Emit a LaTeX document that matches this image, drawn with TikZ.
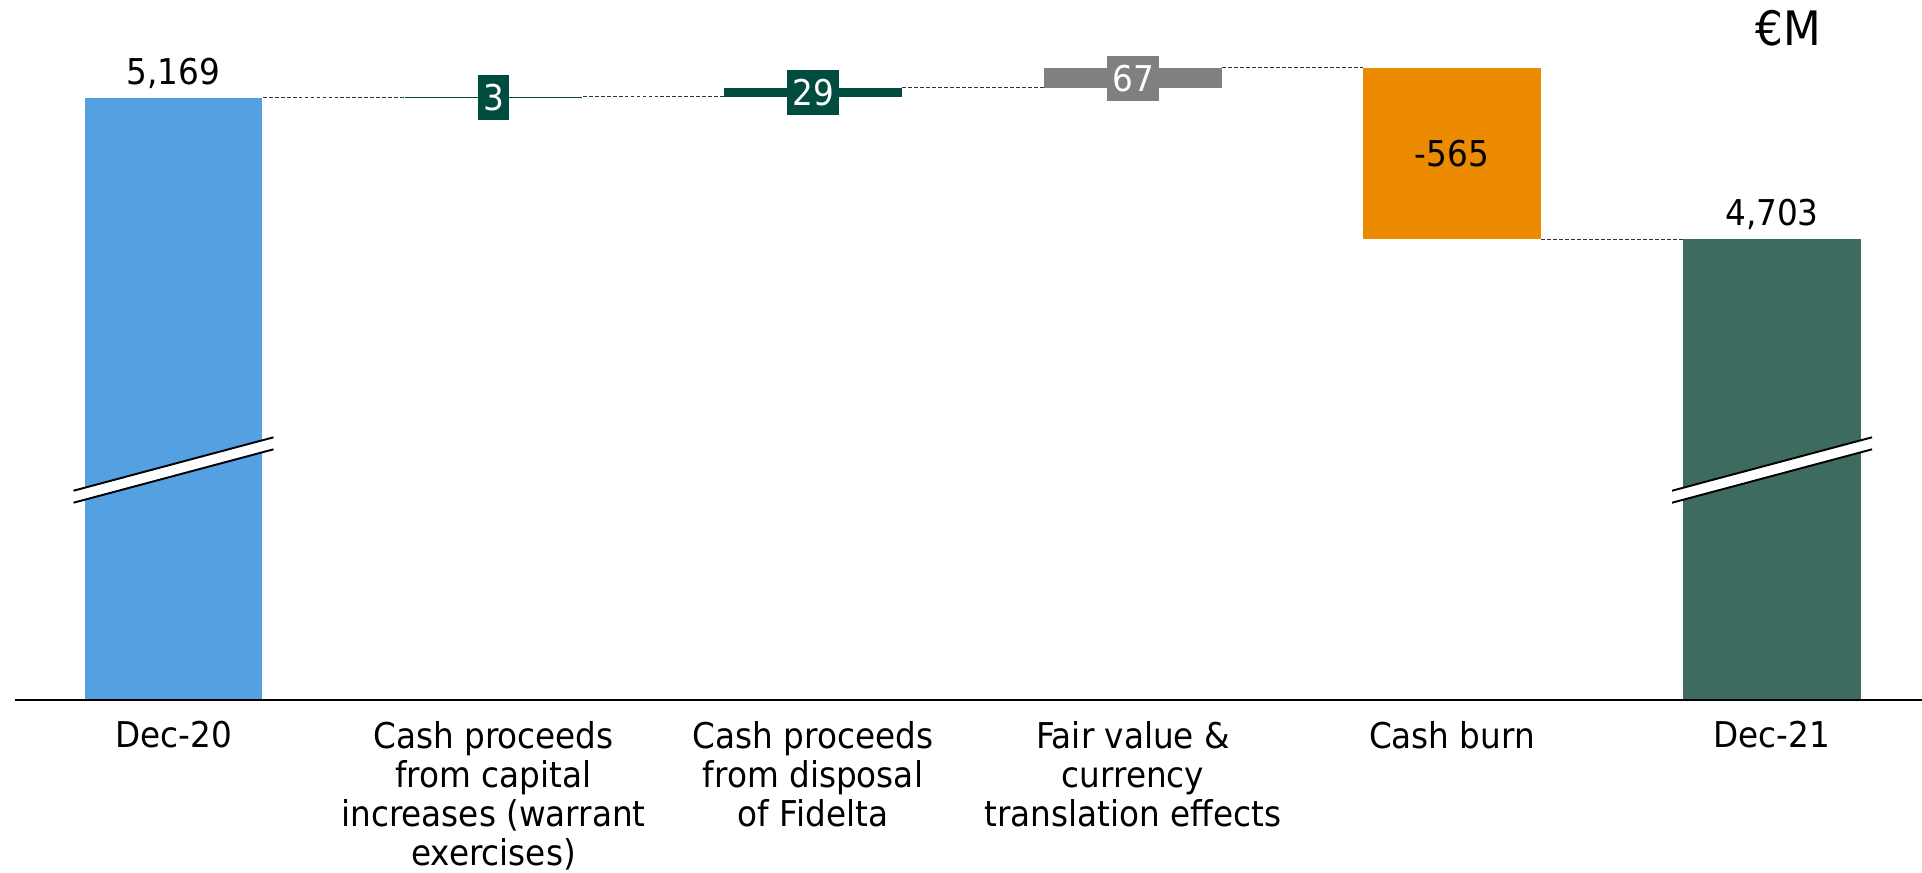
\documentclass[tikz,border=0pt]{standalone}
\usepackage{fontspec}
\setmainfont{DejaVu Sans}[FakeStretch=0.92]
\usepackage{tikz}
\definecolor{blue20}{RGB}{85,160,224}
\definecolor{teal21}{RGB}{62,107,95}
\definecolor{darkteal}{RGB}{0,77,64}
\definecolor{greybar}{RGB}{128,128,128}
\definecolor{burnorange}{RGB}{236,138,0}

\begin{document}
\begin{tikzpicture}[x=0.01cm,y=-0.01cm,
  every node/.style={font=\fontsize{10.1}{11.1}\selectfont},
  bar/.style={inner sep=0pt,minimum width=1.77cm},
  conn/.style={black!80,line width=0.35pt,dash pattern=on 1.1pt off 0.6pt},
  valbox/.style={fill=darkteal,text=white,inner xsep=0.055cm,inner ysep=0pt,minimum height=0.45cm},
  cat/.style={align=center,inner sep=0pt,below=0.2cm}]
\useasboundingbox (0,0) rectangle (1922,872);
\node[bar,fill=blue20,minimum height=6.02cm] (dec20) at (173.5,399) {};
\node[bar,fill=darkteal,minimum height=0.012cm] (cap) at (493.5,97.5) {};
\node[bar,fill=darkteal,minimum height=0.088cm] (fid) at (813,92.7) {};
\node[bar,fill=greybar,minimum height=0.203cm] (fx) at (1133,78.15) {};
\node[bar,fill=burnorange,minimum height=1.71cm] (burn) at (1452,153.5) {-565};
\node[bar,fill=teal21,minimum height=4.61cm] (dec21) at (1772,469.5) {};
\draw[conn] (dec20.north east) -- (dec20.north east -| cap.west);
\draw[conn] (cap.north east) -- (cap.north east -| fid.west);
\draw[conn] (fid.north east) -- (fid.north east -| fx.west);
\draw[conn] (fx.north east) -- (fx.north east -| burn.west);
\draw[conn] (burn.south east) -- (burn.south east -| dec21.west);
\node[valbox] (v3) at (cap) {3};
\node[valbox] (v29) at (fid) {29};
\node[valbox,fill=greybar] (v67) at (fx) {67};
\node[anchor=base] (t20) at ([yshift=0.125cm]dec20.north) {5,169};
\node[anchor=base] (t21) at ([yshift=0.125cm]dec21.north) {4,703};
\foreach \bx in {173.5,1772}{
  \fill[white] (\bx-100,490.7) -- (\bx+100,437.3) -- (\bx+100,449.3) -- (\bx-100,502.7) -- cycle;
  \draw[line width=0.55pt] (\bx-100,490.7) -- (\bx+100,437.3) (\bx-100,502.7) -- (\bx+100,449.3);
}
\draw[line width=0.55pt] (15,700) -- (1922,700);
\node[cat] (l20) at (dec20.south) {Dec-20};
\node[cat] (lcap) at (cap.center |- dec20.south) {Cash proceeds\\from capital\\increases (warrant\\exercises)};
\node[cat] (lfid) at (fid.center |- dec20.south) {Cash proceeds\\from disposal\\of Fidelta};
\node[cat] (lfx) at (fx.center |- dec20.south) {Fair value \&\\currency\\translation effects};
\node[cat] (lburn) at (burn.center |- dec20.south) {Cash burn};
\node[cat] (l21) at (dec21.south) {Dec-21};
\node[anchor=base,font=\fontsize{13.5}{16}\selectfont] (unit) at (1788,45) {€M};
\end{tikzpicture}
\end{document}
